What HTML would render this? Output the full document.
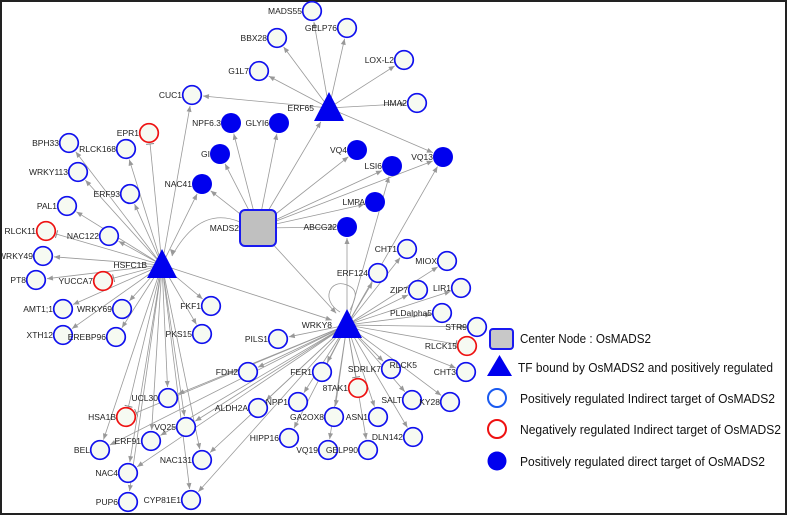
<!DOCTYPE html>
<html><head><meta charset="utf-8"><style>
html,body{margin:0;padding:0;background:#fff}
svg{display:block}
text{font-family:"Liberation Sans",sans-serif}
</style></head><body>
<svg id="s" width="788" height="516" viewBox="0 0 788 516" xmlns="http://www.w3.org/2000/svg">
<rect x="1" y="1" width="785" height="513" fill="#fff" stroke="#222" stroke-width="2"/>
<g id="e"></g><g id="n"></g>
<g font-family="Liberation Sans, sans-serif" font-size="12.5" fill="#111">
<rect x="490" y="329" width="23" height="20" rx="3" fill="#c8c8c8" stroke="#1a1af0" stroke-width="2"/>
<text x="520" y="343" textLength="131" lengthAdjust="spacingAndGlyphs">Center Node : OsMADS2</text>
<polygon points="499.5,355 512,376 487,376" fill="#0000ee"/>
<text x="518" y="372" textLength="255" lengthAdjust="spacingAndGlyphs">TF bound by OsMADS2 and positively regulated</text>
<circle cx="497" cy="398" r="9" fill="#fff" stroke="#1a5af0" stroke-width="2"/>
<text x="520" y="403" textLength="255" lengthAdjust="spacingAndGlyphs">Positively regulated Indirect target of OsMADS2</text>
<circle cx="497" cy="429" r="9" fill="#fff" stroke="#ee1111" stroke-width="2"/>
<text x="520" y="434" textLength="261" lengthAdjust="spacingAndGlyphs">Negatively regulated Indirect target of OsMADS2</text>
<circle cx="497" cy="461" r="9.5" fill="#0000ee"/>
<text x="520" y="466" textLength="245" lengthAdjust="spacingAndGlyphs">Positively regulated direct target of OsMADS2</text>
</g>
</svg>
<script>
var N={
MADS2:[258,228,'s'],ERF65:[329,108,'t'],HSFC1B:[162,265,'t'],WRKY8:[347,325,'t'],
MADS55:[312,11,'o'],GELP76:[347,28,'o'],BBX28:[277,38,'o'],G1L7:[259,71,'o'],CUC1:[192,95,'o'],
'LOX-L2':[404,60,'o'],HMA2:[417,103,'o'],VQ13:[443,157,'f'],'NPF6.3':[231,123,'f'],GLYI6:[279,123,'f'],
GI:[220,154,'f'],NAC41:[202,184,'f'],VQ4:[357,150,'f'],LSI6:[392,166,'f'],LMPA:[375,202,'f'],ABCG22:[347,227,'f'],
EPR1:[149,133,'r'],BPH33:[69,143,'o'],RLCK168:[126,149,'o'],WRKY113:[78,172,'o'],ERF93:[130,194,'o'],
PAL1:[67,206,'o'],RLCK11:[46,231,'r'],NAC122:[109,236,'o'],WRKY49:[43,256,'o'],PT8:[36,280,'o'],
YUCCA7:[103,281,'r'],'AMT1;1':[63,309,'o'],WRKY69:[122,309,'o'],XTH12:[63,335,'o'],EREBP96:[116,337,'o'],
FKF1:[211,306,'o'],PKS15:[202,334,'o'],PILS1:[278,339,'o'],FDH2:[248,372,'o'],FER1:[322,372,'o'],
'8TAK1':[358,388,'r'],UCL30:[168,398,'o'],HSA1B:[126,417,'r'],ALDH2A:[258,408,'o'],NPP1:[298,402,'o'],
VQ25:[186,427,'o'],ERF91:[151,441,'o'],GA2OX8:[334,417,'o'],ASN1:[378,417,'o'],HIPP16:[289,438,'o'],
BEL:[100,450,'o'],NAC131:[202,460,'o'],VQ19:[328,450,'o'],GELP90:[368,450,'o'],NAC4:[128,473,'o'],
PUP6:[128,502,'o'],CYP81E1:[191,500,'o'],SDRLK7:[391,369,'o'],ERF124:[378,273,'o'],CHT1:[407,249,'o'],
MIOX:[447,261,'o'],ZIP7:[418,290,'o'],LIR1:[461,288,'o'],PLDalpha5:[442,313,'o'],STR9:[477,327,'o'],
RLCK15:[467,346,'r'],CHT3:[466,372,'o'],SALT:[412,400,'o'],XY28:[450,402,'o'],DLN142:[413,437,'o']};
var lab={XY28:'KY28'};
var E=[];
function add(s,l,inh){l.forEach(function(t){E.push([s,t,(inh||[]).indexOf(t)>=0])})}
add('ERF65',['MADS55','GELP76','BBX28','G1L7','CUC1','LOX-L2','HMA2','VQ13']);
add('MADS2',['ERF65','NPF6.3','GLYI6','GI','NAC41','VQ4','LSI6','VQ13','LMPA','ABCG22','HSFC1B','WRKY8']);
add('HSFC1B',['CUC1','EPR1','BPH33','RLCK168','WRKY113','ERF93','PAL1','NAC41','RLCK11','NAC122','WRKY49','PT8','YUCCA7','AMT1;1','WRKY69','XTH12','EREBP96','FKF1','PKS15','UCL30','HSA1B','VQ25','ERF91','BEL','NAC4','PUP6','NAC131','CYP81E1','WRKY8'],['EPR1','RLCK11','YUCCA7','HSA1B']);
add('WRKY8',['ABCG22','ERF124','CHT1','MIOX','ZIP7','LIR1','PLDalpha5','STR9','RLCK15','CHT3','XY28','SALT','DLN142','SDRLK7','8TAK1','ASN1','GELP90','GA2OX8','VQ19','FER1','NPP1','HIPP16','ALDH2A','FDH2','PILS1','UCL30','VQ25','ERF91','NAC4','NAC131','CYP81E1','BEL','HSA1B','VQ13','LSI6'],['RLCK15','8TAK1','HSA1B']);
var NS='http://www.w3.org/2000/svg',eg=document.getElementById('e'),ng=document.getElementById('n');
function el(t,a,p){var x=document.createElementNS(NS,t);for(var k in a)x.setAttribute(k,a[k]);p.appendChild(x);return x}
function rad(n){var t=N[n][2];return t=='s'?20:t=='t'?15:10}
E.forEach(function(e){var a=N[e[0]],b=N[e[1]];
 if(e[0]=='MADS2'&&e[1]=='HSFC1B'){el('path',{d:'M240,222 Q200,205 172,256',fill:'none',stroke:'#999','stroke-width':0.8},eg);el('polygon',{points:'172,256 170,249 176,251',fill:'#999'},eg);return;}
 var dx=b[0]-a[0],dy=b[1]-a[1],L=Math.sqrt(dx*dx+dy*dy),ux=dx/L,uy=dy/L;
 var r=rad(e[1])+1,ex=b[0]-ux*r,ey=b[1]-uy*r;
 el('line',{x1:a[0],y1:a[1],x2:ex,y2:ey,stroke:'#999','stroke-width':0.8},eg);
 if(e[2]){el('line',{x1:ex-uy*4,y1:ey+ux*4,x2:ex+uy*4,y2:ey-ux*4,stroke:'#888','stroke-width':1},eg)}
 else{var bx=ex-ux*6,by=ey-uy*6;el('polygon',{points:ex+','+ey+' '+(bx-uy*2.5)+','+(by+ux*2.5)+' '+(bx+uy*2.5)+','+(by-ux*2.5),fill:'#999'},eg)}
});
el('path',{d:'M340,312 C320,300 330,278 347,285 C360,290 355,300 350,310',fill:'none',stroke:'#999','stroke-width':0.8},eg);
for(var k in N){var v=N[k],x=v[0],y=v[1],t=v[2];
 if(t=='s'){el('rect',{x:x-18,y:y-18,width:36,height:36,rx:5,fill:'#c0c0c0',stroke:'#1a1af0','stroke-width':2},ng);
  el('text',{x:x-19,y:y+3,'font-size':8.5,'text-anchor':'end',fill:'#222'},ng).textContent=k;continue}
 if(t=='t'){el('polygon',{points:x+','+(y-16)+' '+(x+15)+','+(y+13)+' '+(x-15)+','+(y+13),fill:'#0000ee'},ng);
  el('text',{x:x-15,y:y+3,'font-size':8.5,'text-anchor':'end',fill:'#222'},ng).textContent=k;continue}
 if(t=='f')el('circle',{cx:x,cy:y,r:10,fill:'#0000ee'},ng);
 else el('circle',{cx:x,cy:y,r:9.3,fill:'#f6faf2',stroke:t=='r'?'#ee1111':'#1010ee','stroke-width':1.7},ng);
 el('text',{x:x-10,y:y+3,'font-size':8.5,'text-anchor':'end',fill:'#222'},ng).textContent=lab[k]||k;
}
el('text',{x:417,y:368,'font-size':8.5,'text-anchor':'end',fill:'#222'},ng).textContent='RLCK5';
</script>
</body></html>
